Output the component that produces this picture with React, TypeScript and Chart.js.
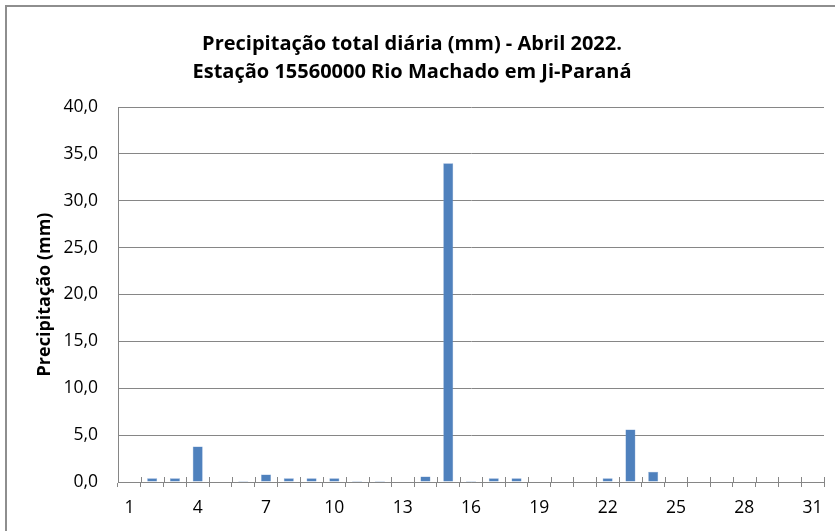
import React, { useEffect, useRef } from "react";
import { Chart, registerables } from "chart.js";

Chart.register(...registerables);

const days: string[] = Array.from({ length: 31 }, (_, i) => String(i + 1));
const precipitation: number[] = [
  0, 0.4, 0.4, 3.8, 0, 0.1, 0.8, 0.4, 0.4, 0.4,
  0.1, 0.1, 0, 0.6, 34.0, 0.1, 0.4, 0.4, 0, 0,
  0, 0.4, 5.6, 1.1, 0, 0, 0, 0, 0, 0, 0,
];
const titleLines: string[] = [
  "Precipitação total diária (mm) - Abril 2022.",
  "Estação 15560000 Rio Machado em Ji-Paraná",
];
const yAxisTitle = "Precipitação (mm)";
const yMin = 0;
const yMax = 40;
const yStep = 5;
const xLabelEvery = 3;

const FONT = "'Open Sans', 'DejaVu Sans', sans-serif";
const AXIS_COLOR = "#868686";

const crossTicks = {
  id: "crossTicks",
  afterDatasetsDraw(chart: any) {
    const x = chart.scales.x;
    const y = chart.scales.y;
    const ctx = chart.ctx;
    const n = days.length;
    const base = y.getPixelForValue(0);
    const w = (x.right - x.left) / n;
    ctx.save();
    ctx.strokeStyle = AXIS_COLOR;
    ctx.lineWidth = 1;
    ctx.beginPath();
    for (let i = 0; i <= n; i++) {
      const px = Math.round(x.left + i * w) + 0.5;
      ctx.moveTo(px, base - 5);
      ctx.lineTo(px, base);
    }
    ctx.stroke();
    ctx.restore();
  },
};

export default function App() {
  const ref = useRef<HTMLCanvasElement | null>(null);

  useEffect(() => {
    if (!ref.current) return;
    const chart = new Chart(ref.current, {
      type: "bar",
      data: {
        labels: days,
        datasets: [
          {
            data: precipitation,
            backgroundColor: "#4F81BD",
            borderColor: "#7FA3D1",
            borderWidth: 0.5,
            barPercentage: 0.44,
            categoryPercentage: 1,
          },
        ],
      },
      plugins: [crossTicks],
      options: {
        responsive: false,
        animation: false,
        layout: { padding: { left: 0, right: 11, top: 0, bottom: 0 } },
        plugins: {
          legend: { display: false },
          tooltip: { enabled: false },
          title: {
            display: true,
            text: titleLines,
            color: "#000",
            font: { family: FONT, size: 20, weight: "bold", lineHeight: 1.4 },
            padding: { top: 30, bottom: 21 },
          },
        },
        scales: {
          x: {
            grid: {
              display: true,
              offset: true,
              drawOnChartArea: false,
              drawTicks: true,
              tickLength: 5,
              color: AXIS_COLOR,
            },
            border: { display: true, color: AXIS_COLOR, width: 1 },
            ticks: {
              autoSkip: false,
              maxRotation: 0,
              padding: 11,
              color: "#000",
              font: { family: FONT, size: 17.5 },
              callback: (_v: any, i: number) => (i % xLabelEvery === 0 ? days[i] : ""),
            },
            afterFit: (s: any) => {
              s.height = 49;
            },
          },
          y: {
            min: yMin,
            max: yMax,
            grid: { color: AXIS_COLOR, lineWidth: 1, drawTicks: false },
            border: { display: true, color: AXIS_COLOR, width: 1 },
            ticks: {
              stepSize: yStep,
              padding: 20,
              color: "#000",
              font: { family: FONT, size: 17.5 },
              callback: (v: any) => Number(v).toFixed(1).replace(".", ","),
            },
            title: {
              display: true,
              text: yAxisTitle,
              color: "#000",
              font: { family: FONT, size: 18, weight: "bold" },
              padding: { top: 34, bottom: 0 },
            },
            afterFit: (s: any) => {
              s.width = 118;
            },
          },
        },
      },
    });
    return () => chart.destroy();
  }, []);

  return (
    <div style={{ position: "absolute", left: 0, top: 0, width: 835, height: 531, background: "#fff" }}>
      <canvas ref={ref} width={835} height={531} style={{ display: "block" }} />
      <div
        style={{
          position: "absolute",
          left: 5,
          top: 5,
          width: 840,
          height: 540,
          borderLeft: "2px solid #8e8e8e",
          borderTop: "2px solid #8e8e8e",
          pointerEvents: "none",
        }}
      />
    </div>
  );
}
